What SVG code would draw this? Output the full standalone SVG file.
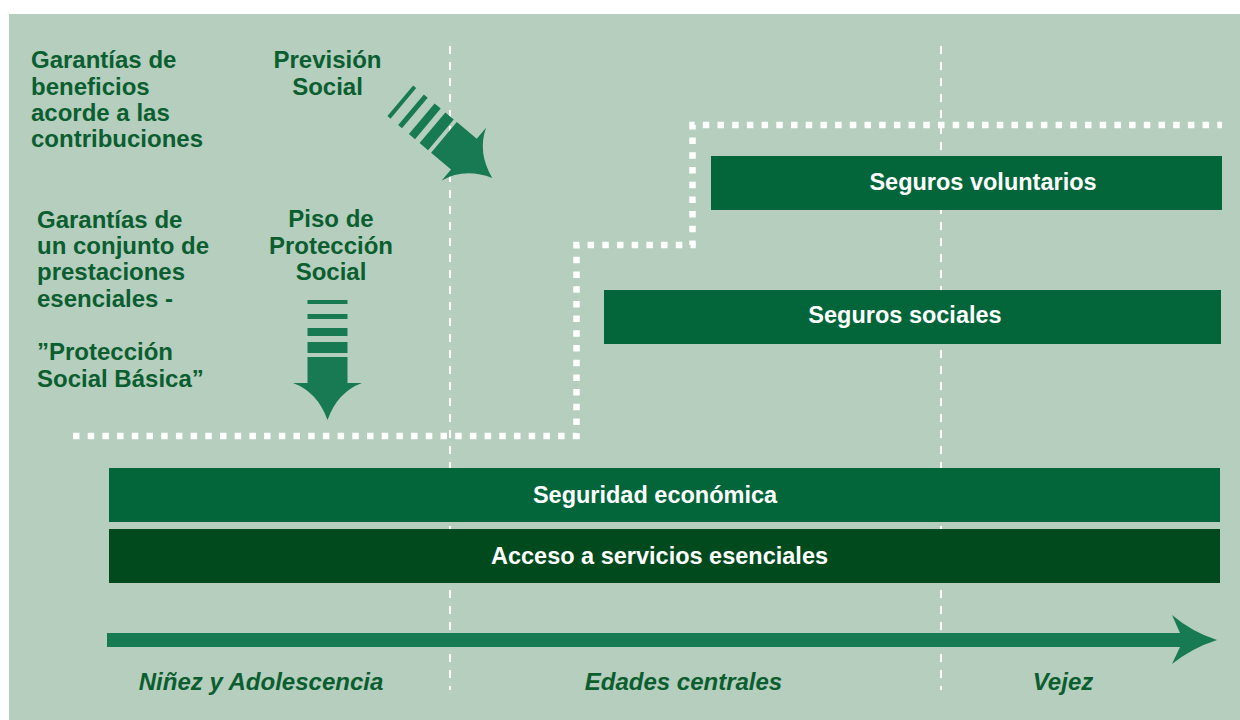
<svg xmlns="http://www.w3.org/2000/svg" xmlns:xlink="http://www.w3.org/1999/xlink" width="1240" height="720" viewBox="0 0 1240 720">
<style>
.lbl{font-family:"Liberation Sans",Arial,sans-serif;font-weight:bold;font-size:24px;fill:#0b5e2f}
.mid{text-anchor:middle}
.box{fill:#02663a}
.box2{fill:#004a1e}
.btx{font-family:"Liberation Sans",Arial,sans-serif;font-weight:bold;font-size:23.5px;fill:#ffffff;text-anchor:middle}
.ax{font-family:"Liberation Sans",Arial,sans-serif;font-weight:bold;font-style:italic;font-size:24px;fill:#0b5e2f;text-anchor:middle}
.vdash{stroke:#ffffff;stroke-width:2;stroke-dasharray:8 8;fill:none}
.dots{stroke:#ffffff;stroke-width:6.5;stroke-dasharray:6.5 8.2;fill:none}
.arr{fill:#187a52}
</style>
<defs>
<g id="striped-arrow">
<rect x="-20" y="0" width="40" height="4"/>
<rect x="-20" y="14" width="40" height="5"/>
<rect x="-20" y="28" width="40" height="8"/>
<rect x="-20" y="42" width="40" height="11"/>
<path d="M-20,57 H20 V83 H34.5 Q10,92 0,120 Q-10,92 -34.5,83 H-20 Z"/>
</g>
</defs>
<rect x="9" y="14" width="1231" height="706" fill="#b5cebe"/>
<g id="guides">
<line class="vdash" x1="450" y1="46" x2="450" y2="690"/>
<line class="vdash" x1="941" y1="46" x2="941" y2="690"/>
</g>
<g id="connectors">
<path class="dots" d="M73,436 H576.5 V245 H692.5 V125 H1222"/>
<path id="timeline" class="arr" d="M107,633 H1180 L1172,615 Q1192,632 1217,640 Q1192,648 1172,664 L1180,647 H107 Z"/>
</g>
<g id="label-garantias-beneficios">
<text class="lbl" x="31" y="68">Garantías de</text>
<text class="lbl" x="31" y="95">beneficios</text>
<text class="lbl" x="31" y="121">acorde a las</text>
<text class="lbl" x="31" y="147">contribuciones</text>
</g>
<g id="label-garantias-basica">
<text class="lbl" x="37" y="228">Garantías de</text>
<text class="lbl" x="37" y="254">un conjunto de</text>
<text class="lbl" x="37" y="280">prestaciones</text>
<text class="lbl" x="37" y="307">esenciales -</text>
<text class="lbl" x="37" y="360">”Protección</text>
<text class="lbl" x="37" y="387">Social Básica”</text>
</g>
<g id="prevision-social">
<text class="lbl mid" x="327.5" y="68">Previsión</text>
<text class="lbl mid" x="327.5" y="95">Social</text>
<use xlink:href="#striped-arrow" class="arr" transform="translate(400.3,100.8) rotate(-50)"/>
</g>
<g id="piso-proteccion">
<text class="lbl mid" x="331" y="227">Piso de</text>
<text class="lbl mid" x="331" y="254">Protección</text>
<text class="lbl mid" x="331" y="280">Social</text>
<use xlink:href="#striped-arrow" class="arr" transform="translate(327.5,300)"/>
</g>
<g id="seguros-voluntarios">
<rect class="box" x="711" y="156" width="511" height="54"/>
<text class="btx" x="983" y="190">Seguros voluntarios</text>
</g>
<g id="seguros-sociales">
<rect class="box" x="604" y="290" width="617" height="54"/>
<text class="btx" x="905" y="323">Seguros sociales</text>
</g>
<g id="seguridad-economica">
<rect class="box" x="109" y="468" width="1111" height="54"/>
<text class="btx" x="655" y="503">Seguridad económica</text>
</g>
<g id="acceso-servicios">
<rect class="box2" x="109" y="529" width="1111" height="54"/>
<text class="btx" x="659.5" y="564">Acceso a servicios esenciales</text>
</g>
<g id="axis-labels">
<text class="ax" x="261" y="690">Niñez y Adolescencia</text>
<text class="ax" x="683.5" y="690">Edades centrales</text>
<text class="ax" x="1063" y="690">Vejez</text>
</g>
</svg>
